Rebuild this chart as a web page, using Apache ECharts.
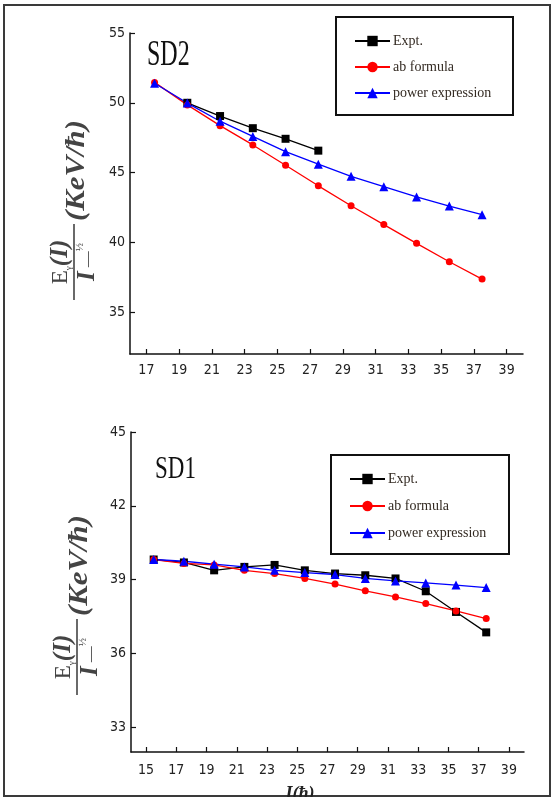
<!DOCTYPE html>
<html>
<head>
<meta charset="utf-8">
<script src="https://cdn.jsdelivr.net/npm/echarts@6/dist/echarts.min.js"></script>
<style>
  html, body { margin: 0; padding: 0; background: #fff; }
  #main { width: 555px; height: 797px; }
</style>
</head>
<body>
<div id="main"></div>
<script>
// SD2 (top panel)
var sd2Spin = [17.5, 19.5, 21.5, 23.5, 25.5, 27.5, 29.5, 31.5, 33.5, 35.5, 37.5];
var sd2ExptSpin = [19.5, 21.5, 23.5, 25.5, 27.5];
var sd2Expt = [50.0, 49.05, 48.18, 47.42, 46.57];
var sd2Ab = [51.46, 49.85, 48.36, 46.98, 45.52, 44.05, 42.62, 41.27, 39.93, 38.61, 37.37];
var sd2Power = [51.4, 49.98, 48.68, 47.59, 46.5, 45.6, 44.73, 43.99, 43.25, 42.6, 41.98];
var sd2XTicks = [17, 19, 21, 23, 25, 27, 29, 31, 33, 35, 37, 39];
var sd2YTicks = [35, 40, 45, 50, 55];

// SD1 (bottom panel)
var sd1Spin = [15.5, 17.5, 19.5, 21.5, 23.5, 25.5, 27.5, 29.5, 31.5, 33.5, 35.5, 37.5];
var sd1Expt = [39.82, 39.7, 39.38, 39.52, 39.6, 39.38, 39.25, 39.18, 39.05, 38.53, 37.69, 36.86];
var sd1Ab = [39.82, 39.66, 39.6, 39.38, 39.25, 39.05, 38.82, 38.55, 38.3, 38.03, 37.73, 37.42];
var sd1Power = [39.82, 39.75, 39.63, 39.52, 39.38, 39.29, 39.21, 39.05, 38.95, 38.87, 38.78, 38.68];
var sd1XTicks = [15, 17, 19, 21, 23, 25, 27, 29, 31, 33, 35, 37, 39];
var sd1YTicks = [33, 36, 39, 42, 45];

var names = ['Expt.', 'ab formula', 'power expression'];

function pairs(xs, ys) {
  return xs.map(function (x, i) { return [x, ys[i]]; });
}

var chart = echarts.init(document.getElementById('main'));

var labelFont = { color: '#222', fontSize: 14, fontFamily: 'DejaVu Sans Condensed, Liberation Sans, sans-serif' };

function xAxisOf(idx, min, max, ticks, margin) {
  return {
    type: 'value', gridIndex: idx, min: min, max: max,
    axisLine: { onZero: false, lineStyle: { color: '#111', width: 1.5 } },
    axisTick: { inside: true, length: 5, customValues: ticks, lineStyle: { color: '#111', width: 1.2 } },
    axisLabel: Object.assign({ customValues: ticks, margin: margin }, labelFont),
    splitLine: { show: false }
  };
}

function yAxisOf(idx, min, max, ticks) {
  return {
    type: 'value', gridIndex: idx, min: min, max: max,
    axisLine: { show: true, lineStyle: { color: '#111', width: 1.5 } },
    axisTick: { show: true, inside: true, length: 5, customValues: ticks, lineStyle: { color: '#111', width: 1.2 } },
    axisLabel: Object.assign({ customValues: ticks, margin: 5 }, labelFont),
    splitLine: { show: false }
  };
}

function lineSeries(name, idx, data, color, symbol, size) {
  return {
    name: name, type: 'line', xAxisIndex: idx, yAxisIndex: idx,
    data: data, symbol: symbol, symbolSize: size,
    lineStyle: { color: color, width: 1.3 },
    itemStyle: { color: color },
    animation: false
  };
}

function legendAt(left, top, gap) {
  return {
    orient: 'vertical', left: left, top: top, padding: 0,
    itemWidth: 35, itemHeight: 13, itemGap: gap, z: 5,
    data: names,
    textStyle: { color: '#332a22', fontSize: 14, fontFamily: 'Liberation Serif, serif', padding: [0, 0, 0, -2] }
  };
}

// y-axis label as a rotated fraction
function yName(cx, cy) {
  var serif = 'Liberation Serif, serif';
  var ink = '#444';
  return {
    type: 'group', x: cx, y: cy, rotation: Math.PI / 2, z: 1,
    children: [
      { type: 'line', shape: { x1: -38, y1: 0, x2: 38, y2: 0 }, style: { stroke: ink, lineWidth: 1.6 } },
      { type: 'text', x: 0, y: -1, style: {
          text: '{e|E}{s|γ}{i|(I)}', align: 'center', verticalAlign: 'bottom', fill: ink,
          rich: {
            e: { fontSize: 23, fontFamily: serif, fill: ink },
            s: { fontSize: 9, fontFamily: serif, fill: ink, verticalAlign: 'bottom' },
            i: { fontSize: 25, fontFamily: serif, fontWeight: 'bold', fontStyle: 'italic', fill: ink }
          } } },
      { type: 'text', x: 0, y: 1, style: {
          text: '{i|I}{m| —}{f|½}', align: 'center', verticalAlign: 'top', fill: ink,
          rich: {
            i: { fontSize: 25, fontFamily: serif, fontWeight: 'bold', fontStyle: 'italic', fill: ink },
            m: { fontSize: 16, fontFamily: serif, fill: ink },
            f: { fontSize: 11, fontFamily: serif, fill: ink, verticalAlign: 'top' }
          } } },
      { type: 'text', x: 41, y: 3, scaleX: 1.1, style: {
          text: '(KeV/ħ)', align: 'left', verticalAlign: 'middle', fill: ink,
          fontSize: 28, fontFamily: serif, fontWeight: 'bold', fontStyle: 'italic' } }
    ]
  };
}

var option = {
  backgroundColor: '#fff',
  animation: false,
  grid: [
    { left: 130, right: 32, top: 33, bottom: 443 },
    { left: 131, right: 31, top: 432, bottom: 45 }
  ],
  xAxis: [
    xAxisOf(0, 16, 40, sd2XTicks, 9),
    xAxisOf(1, 14, 40, sd1XTicks, 11)
  ],
  yAxis: [
    yAxisOf(0, 32, 55, sd2YTicks),
    yAxisOf(1, 32, 45, sd1YTicks)
  ],
  legend: [
    legendAt(354, 34, 12),
    legendAt(349, 472, 13)
  ],
  series: [
    lineSeries(names[0], 0, pairs(sd2ExptSpin, sd2Expt), '#000', 'rect', 8),
    lineSeries(names[1], 0, pairs(sd2Spin, sd2Ab), '#ff0000', 'circle', 7),
    lineSeries(names[2], 0, pairs(sd2Spin, sd2Power), '#0000ff', 'triangle', 9),
    lineSeries(names[0], 1, pairs(sd1Spin, sd1Expt), '#000', 'rect', 8),
    lineSeries(names[1], 1, pairs(sd1Spin, sd1Ab), '#ff0000', 'circle', 7),
    lineSeries(names[2], 1, pairs(sd1Spin, sd1Power), '#0000ff', 'triangle', 9)
  ],
  graphic: [
    { type: 'rect', shape: { x: 4, y: 5, width: 546, height: 791 }, style: { fill: 'none', stroke: '#3a3a3a', lineWidth: 2 }, z: 0 },
    { type: 'rect', shape: { x: 336, y: 17, width: 177, height: 98 }, style: { fill: '#fff', stroke: '#111', lineWidth: 2 }, z: 1 },
    { type: 'rect', shape: { x: 331, y: 455, width: 178, height: 99 }, style: { fill: '#fff', stroke: '#111', lineWidth: 2 }, z: 1 },
    { type: 'text', x: 147, y: 38, scaleY: 1.45, z: 3, style: { text: 'SD2', fill: '#111', fontSize: 24, fontFamily: 'Liberation Serif, serif', verticalAlign: 'top' } },
    { type: 'text', x: 155, y: 453, scaleY: 1.4, z: 3, style: { text: 'SD1', fill: '#111', fontSize: 23, fontFamily: 'Liberation Serif, serif', verticalAlign: 'top' } },
    yName(74, 262),
    yName(77, 657),
    { type: 'text', x: 300, y: 785, z: 3, style: { text: 'I(ħ)', fill: '#222', fontSize: 18, fontFamily: 'Liberation Serif, serif', fontWeight: 'bold', fontStyle: 'italic', align: 'center', verticalAlign: 'top' } }
  ]
};

chart.setOption(option);
</script>
</body>
</html>
